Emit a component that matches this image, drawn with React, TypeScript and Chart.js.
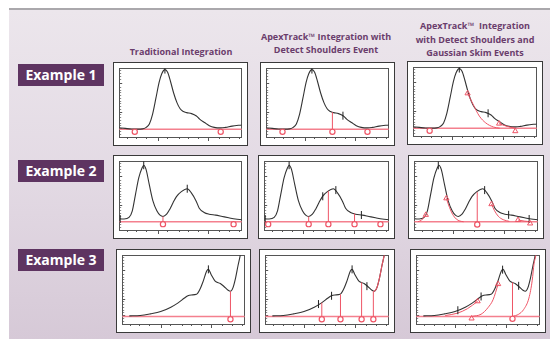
import React, { useEffect, useRef } from "react";
import { Chart, registerables } from "chart.js";
Chart.register(...registerables);

// ---------- column headers / row labels ----------
const colHeaders: string[][] = [
  ["Traditional Integration"],
  ["ApexTrack\u2122 Integration with", "Detect Shoulders Event"],
  ["ApexTrack\u2122  Integration", "with Detect Shoulders and", "Gaussian Skim Events"],
];
const rowLabels = ["Example 1", "Example 2", "Example 3"];

// ---------- axis tick positions (normalised 0-100) ----------
const xMinorTicks = [6.6, 14.5, 22.5, 31.7, 39.7, 48.9, 56.9, 64.9, 72.8, 82, 90, 97.9];
const xMajorTicks = [31.7, 72.8];
const yMinorTicks = [4, 8, 16, 20, 24, 28, 32, 40, 44, 48, 52, 56, 60, 64, 68, 72, 84, 88, 92, 96];
const yMajorTicks = [12, 36, 78];

// ---------- chromatogram traces (x %, y %) ----------
const ex1X = [0, 5, 10, 15, 19, 22, 24.6, 27.2, 29.9, 32.5, 34.7, 37.3, 39.5, 41.8, 44.4, 47.1, 49.7, 52.4, 55, 59, 63, 65.6, 69.6, 73.5, 77.5, 82.8, 86.8, 92, 100];
const ex1Y = [13.5, 12.5, 11.6, 11.4, 11.8, 14, 19, 33, 56, 79, 92, 98, 94, 81, 64, 50, 41, 37, 35.4, 34, 30.5, 26, 21, 16.5, 14, 13.2, 14, 15.8, 17.5];
const ex2X = [0.8, 4, 8, 10.7, 13.3, 16, 18.7, 20, 21.9, 24.5, 27.5, 30.7, 33.3, 35.7, 38.7, 41.3, 44, 46.7, 50.7, 55.5, 58.7, 62.7, 65.3, 69.3, 73.3, 78.7, 84, 89.3, 94.7, 100];
const ex2Y = [15.9, 15.9, 18.3, 27.9, 51.9, 76, 90.4, 94.2, 88, 66.3, 42.3, 27.9, 21.6, 19.7, 23, 30.3, 39.9, 48.6, 55.8, 60, 54.3, 42.3, 31.7, 25.5, 23, 21.6, 19.7, 17.8, 15.9, 14.9];
const ex3X = [5.8, 14.7, 23, 31.4, 39.7, 45.3, 50.8, 53.6, 56.4, 60.6, 63.3, 66.1, 68.9, 70.3, 72.5, 75.8, 80, 82.8, 86.4, 88.3, 90.3, 92.5, 94.4, 96.4, 98.5];
const ex3Y = [11.8, 12.3, 14.7, 18.1, 24.5, 30.4, 37.7, 41.2, 42.2, 43.1, 50, 62.3, 77, 79.4, 72, 62.3, 58.8, 54.9, 49, 47.5, 52.5, 67.2, 84.3, 101, 125];
const baselines = [11.3, 12, 11];

// ---------- integration events per panel ----------
type P = number[][];
// row 1
const p11Circles: P = [[12.7, 7.5], [82.8, 7.5]];
const p11Drops: P = [];
const p11Ticks: P = [[37.3, 98]];
const p12Circles: P = [[13.3, 7.5], [54, 7.5], [82.6, 7.5]];
const p12Drops: P = [[54, 36]];
const p12Ticks: P = [[37.3, 98], [62.6, 31]];
const p13Circles: P = [[13.3, 7.5]];
const p13Triangles: P = [[44, 62], [69.5, 18], [82.6, 7]];
const p13Ticks: P = [[37.3, 98], [60.6, 33]];
const p13SkimA: P = [[44, 62], [48.5, 46], [53.5, 29], [58.7, 19], [65, 13], [70, 11.3]];
const p13SkimB: P = [[69.5, 18], [75, 14.5], [82.6, 11.3]];
// row 2
const p21Circles: P = [[35.7, 8.5], [93.3, 8.5]];
const p21Drops: P = [[35.7, 19.7]];
const p21Ticks: P = [[0.8, 16], [20, 94.2], [55.5, 60]];
const p22Circles: P = [[3.2, 8.5], [35.7, 8.5], [51.5, 8.5], [72.5, 8.5], [93.3, 8.5]];
const p22Drops: P = [[35.7, 19.7], [51.5, 56.5], [72.5, 24]];
const p22Ticks: P = [[0.8, 16], [20, 94.2], [47, 49], [57.5, 58], [78, 21.8]];
const p23Circles: P = [[51, 8]];
const p23Triangles: P = [[9.4, 22], [26, 46], [62.5, 37.5], [84, 14.5], [93.8, 9.5], [51, 8]];
const p23Drops: P = [[51, 55]];
const p23Ticks: P = [[19.5, 94], [57, 58], [76.4, 22], [93, 16]];
const p23SkimA: P = [[3, 12], [6, 14.5], [9.4, 22]];
const p23SkimB: P = [[26, 46], [28.5, 33], [31, 23], [34, 16], [37, 13], [40, 12]];
const p23SkimC: P = [[62.5, 37.5], [65, 28], [68, 20], [72, 15], [77, 12.5]];
const p23SkimD: P = [[84, 14.5], [89, 13], [93.8, 12]];
// row 3
const p31Circles: P = [[88.3, 7]];
const p31Drops: P = [[88.3, 47.5]];
const p31Ticks: P = [[70.3, 79.4]];
const p32Circles: P = [[45.8, 7], [60.9, 7], [78, 7], [87.5, 7]];
const p32Drops: P = [[45.8, 31], [60.9, 43], [78, 60.5], [87.5, 48]];
const p32Ticks: P = [[43.1, 29], [53.7, 41], [70.3, 79.4], [82.3, 55]];
const p32RedTailFrom = 88.3; // tail of trace after last valley drawn red
const p33Circles: P = [[77.9, 7.5]];
const p33Triangles: P = [[44.8, 8], [49.7, 33], [66.3, 58]];
const p33Drops: P = [[77.9, 60.5]];
const p33Ticks: P = [[33.7, 20], [52.5, 40], [69.9, 79], [82.9, 55.5]];
const p33SkimA: P = [[23.5, 12.3], [33.1, 15.6], [41.4, 22.2], [49.7, 33]];
const p33SkimB: P = [[44.8, 11], [52.5, 14.2], [58, 23.6], [62.2, 35.4], [66.3, 58]];
const p33SkimC: P = [[77.9, 11], [82.9, 14.2], [87, 21.2], [91.2, 37.7], [93.9, 63.7], [95.3, 87.3], [96.7, 99], [97.5, 110]];

interface PanelSpec {
  left: number; top: number; width: number; height: number;
  xs: number[]; ys: number[]; base: number;
  circles: P; drops: P; ticks: P; triangles?: P; skims?: P[]; redTailFrom?: number;
}

const panels: PanelSpec[] = [
  { left: 113, top: 62, width: 135, height: 84, xs: ex1X, ys: ex1Y, base: baselines[0], circles: p11Circles, drops: p11Drops, ticks: p11Ticks },
  { left: 260, top: 62, width: 135, height: 84, xs: ex1X, ys: ex1Y, base: baselines[0], circles: p12Circles, drops: p12Drops, ticks: p12Ticks },
  { left: 407, top: 61, width: 136, height: 84, xs: ex1X, ys: ex1Y, base: baselines[0], circles: p13Circles, drops: [], ticks: p13Ticks, triangles: p13Triangles, skims: [p13SkimA, p13SkimB] },
  { left: 113, top: 155, width: 135, height: 84, xs: ex2X, ys: ex2Y, base: baselines[1], circles: p21Circles, drops: p21Drops, ticks: p21Ticks },
  { left: 258, top: 155, width: 137, height: 84, xs: ex2X, ys: ex2Y, base: baselines[1], circles: p22Circles, drops: p22Drops, ticks: p22Ticks },
  { left: 408, top: 155, width: 136, height: 84, xs: ex2X, ys: ex2Y, base: baselines[1], circles: p23Circles, drops: p23Drops, ticks: p23Ticks, triangles: p23Triangles, skims: [p23SkimA, p23SkimB, p23SkimC, p23SkimD] },
  { left: 116, top: 249, width: 135, height: 84, xs: ex3X, ys: ex3Y, base: baselines[2], circles: p31Circles, drops: p31Drops, ticks: p31Ticks },
  { left: 259, top: 249, width: 136, height: 84, xs: ex3X, ys: ex3Y, base: baselines[2], circles: p32Circles, drops: p32Drops, ticks: p32Ticks, redTailFrom: p32RedTailFrom },
  { left: 410, top: 249, width: 136, height: 84, xs: ex3X, ys: ex3Y, base: baselines[2], circles: p33Circles, drops: p33Drops, ticks: p33Ticks, triangles: p33Triangles, skims: [p33SkimA, p33SkimB, p33SkimC] },
];

const RED = "#ee5566";
const PINK = "#f4808e";
const INK = "#333333";
const FRAME = "#555555";
const FONT = "'Open Sans', 'Noto Sans', sans-serif";

const toPts = (p: P) => p.map(([x, y]) => ({ x, y }));

function buildDatasets(s: PanelSpec): any[] {
  const ds: any[] = [];
  ds.push({ data: [{ x: 0, y: s.base }, { x: 100, y: s.base }], borderColor: PINK, borderWidth: 1.5, pointRadius: 0, order: 6 });
  ds.push({ data: s.xs.map((x, i) => ({ x, y: s.ys[i] })), borderColor: INK, borderWidth: 1.1, pointRadius: 0, cubicInterpolationMode: "monotone", order: 5 });
  if (s.redTailFrom !== undefined) {
    const tail = s.xs.map((x, i) => ({ x, y: s.ys[i] })).filter((p) => p.x >= (s.redTailFrom as number));
    ds.push({ data: tail, borderColor: RED, borderWidth: 1.1, pointRadius: 0, cubicInterpolationMode: "monotone", order: 3 });
  }
  if (s.drops.length) {
    const d: any[] = [];
    s.drops.forEach(([x, y]) => { d.push({ x, y: s.base }, { x, y }, { x, y: null }); });
    ds.push({ data: d, borderColor: RED, borderWidth: 1, pointRadius: 0, spanGaps: false, order: 4 });
  }
  (s.skims || []).forEach((sk) => {
    ds.push({ data: toPts(sk), borderColor: RED, borderWidth: 1, pointRadius: 0, cubicInterpolationMode: "monotone", order: 3 });
  });
  ds.push({ data: toPts(s.ticks), showLine: false, pointStyle: "line", rotation: 90, pointRadius: 4, borderColor: "#222", borderWidth: 1, order: 2 });
  if (s.triangles) {
    ds.push({ data: toPts(s.triangles), showLine: false, pointStyle: "triangle", pointRadius: 3, borderColor: RED, backgroundColor: "rgba(255,255,255,0)", borderWidth: 1, order: 1 });
  }
  ds.push({ data: toPts(s.circles), showLine: false, pointStyle: "circle", pointRadius: 2.6, borderColor: RED, backgroundColor: "#ffffff", borderWidth: 1.2, order: 0 });
  return ds;
}

const zeroH = (a: any) => { a.height = 0; };
const zeroW = (a: any) => { a.width = 0; };
const setTicks = (vals: number[]) => (a: any) => { a.ticks = vals.map((v) => ({ value: v })); };

function Panel({ spec }: { spec: PanelSpec }) {
  const ref = useRef<HTMLCanvasElement | null>(null);
  const cw = spec.width - 2;
  const ch = spec.height - 2;
  useEffect(() => {
    if (!ref.current) return;
    const common = { min: 0, max: 100, type: "linear" as const, ticks: { display: false } };
    const chart = new Chart(ref.current, {
      type: "line",
      data: { datasets: buildDatasets(spec) },
      options: {
        animation: false,
        responsive: false,
        maintainAspectRatio: false,
        events: [],
        layout: { padding: { left: 4, top: 5, right: 5, bottom: 8 } },
        plugins: { legend: { display: false }, tooltip: { enabled: false } },
        scales: {
          x: { ...common, position: "bottom", afterFit: zeroH, afterBuildTicks: setTicks(xMinorTicks), grid: { drawOnChartArea: false, tickLength: 2, color: FRAME, lineWidth: 1 }, border: { display: true, color: FRAME, width: 1 } },
          xMaj: { ...common, position: "bottom", afterFit: zeroH, afterBuildTicks: setTicks(xMajorTicks), grid: { drawOnChartArea: false, tickLength: 4, color: FRAME, lineWidth: 1 }, border: { display: false } },
          xTop: { ...common, position: "top", afterFit: zeroH, grid: { display: false, drawTicks: false }, border: { display: true, color: FRAME, width: 1 } },
          y: { ...common, position: "left", afterFit: zeroW, afterBuildTicks: setTicks(yMinorTicks), grid: { drawOnChartArea: false, tickLength: -2, color: "#888", lineWidth: 1 }, border: { display: true, color: FRAME, width: 1 } },
          yMaj: { ...common, position: "left", afterFit: zeroW, afterBuildTicks: setTicks(yMajorTicks), grid: { drawOnChartArea: false, tickLength: -3, color: FRAME, lineWidth: 1 }, border: { display: false } },
          yRight: { ...common, position: "right", afterFit: zeroW, grid: { display: false, drawTicks: false }, border: { display: true, color: FRAME, width: 1 } },
        } as any,
      },
    });
    return () => chart.destroy();
  }, [spec]);
  return (
    <div style={{ position: "absolute", left: spec.left, top: spec.top, width: spec.width, height: spec.height, boxSizing: "border-box", border: "1px solid #3a3a3a", background: "#ffffff" }}>
      <canvas ref={ref} width={cw} height={ch} style={{ display: "block", width: cw, height: ch }} />
    </div>
  );
}

const headerCenters = [181, 326, 475];
const headerLastLineY = [52, 50, 53];
const labelTops = [64, 160, 249];

export default function App() {
  return (
    <div style={{ position: "absolute", left: 0, top: 0, width: 550, height: 339, overflow: "hidden", background: "#ffffff", fontFamily: FONT }}>
      <div style={{ position: "absolute", left: 9, top: 8, width: 541, height: 331, background: "linear-gradient(180deg, #ece6ec 0%, #e3dae4 50%, #d6c9d7 100%)", borderTop: "2px solid #aaa8ac", boxSizing: "border-box" }} />
      {colHeaders.map((lines, c) =>
        lines.map((t, i) => (
          <div key={c + "-" + i} style={{ position: "absolute", left: headerCenters[c] - 80, width: 160, top: headerLastLineY[c] - (lines.length - 1 - i) * 13.5 - 7, height: 14, lineHeight: "14px", textAlign: "center", color: "#6a3d6c", fontWeight: 700, fontSize: 9, whiteSpace: "pre" }}>{t}</div>
        ))
      )}
      {rowLabels.map((t, r) => (
        <div key={t} style={{ position: "absolute", left: 18, top: labelTops[r], width: 86, height: 22, background: "#5e3461", color: "#ffffff", fontWeight: 700, fontSize: 14, lineHeight: "22px", textAlign: "center" }}>{t}</div>
      ))}
      {panels.map((p, i) => <Panel key={i} spec={p} />)}
    </div>
  );
}
